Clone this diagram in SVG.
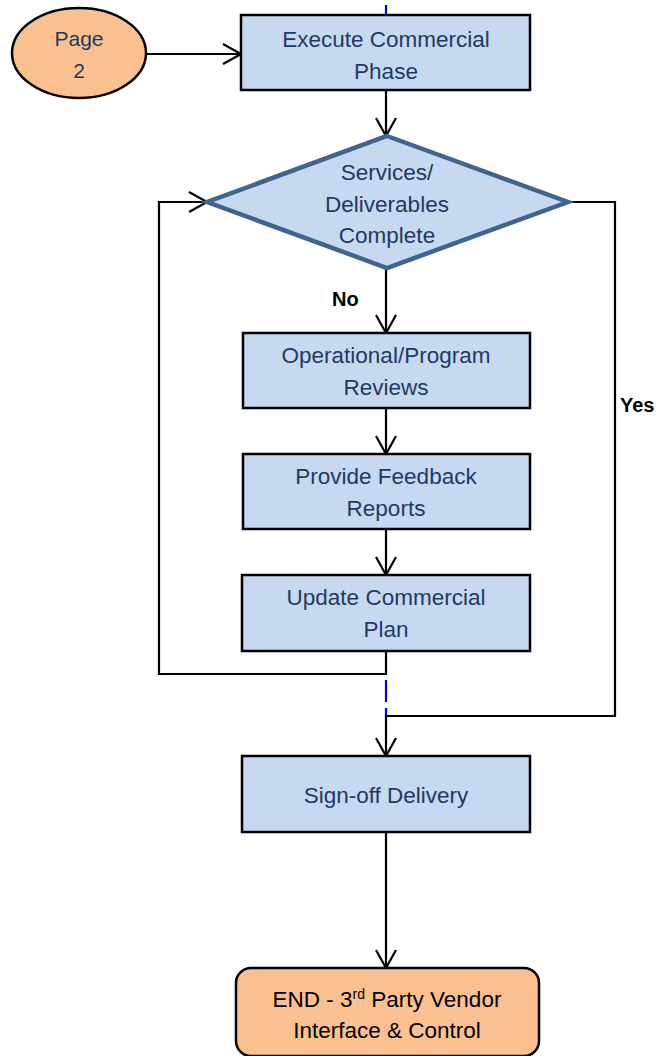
<svg xmlns="http://www.w3.org/2000/svg" width="659" height="1056" viewBox="0 0 659 1056">
<style>
.box{fill:#C6D9F1;stroke:#000;stroke-width:2.5}
.term{fill:#FAC090;stroke:#000;stroke-width:2.5}
.t{font-family:"Liberation Sans",Arial,sans-serif;font-size:22.5px;fill:#1F3A60;text-anchor:middle}
.tp{font-family:"Liberation Sans",Arial,sans-serif;font-size:21px;fill:#1F3A60;text-anchor:middle}
.lbl{font-family:"Liberation Sans",Arial,sans-serif;font-size:20px;font-weight:bold;fill:#000}
.c{fill:none;stroke:#000;stroke-width:2.2}
.blue{fill:none;stroke:#0000E0;stroke-width:2.2}
</style>
<defs>
<marker id="arr" viewBox="0 0 20 22" refX="19" refY="11" markerWidth="20" markerHeight="22" markerUnits="userSpaceOnUse" orient="auto">
<path d="M1,1 L19,11 L1,21" fill="none" stroke="#000" stroke-width="2.2"/>
</marker>
</defs>
<g id="connectors">
<line class="blue" x1="386" y1="5" x2="386" y2="15"/>
<line class="c" x1="147" y1="54" x2="241" y2="54" marker-end="url(#arr)"/>
<line class="c" x1="386" y1="90" x2="386" y2="136" marker-end="url(#arr)"/>
<line class="c" x1="386" y1="268" x2="386" y2="333" marker-end="url(#arr)"/>
<line class="c" x1="386" y1="408" x2="386" y2="454" marker-end="url(#arr)"/>
<line class="c" x1="386" y1="529" x2="386" y2="575" marker-end="url(#arr)"/>
<polyline class="c" points="386,651 386,674 159,674 159,202 207,202" marker-end="url(#arr)"/>
<line class="blue" x1="386" y1="680" x2="386" y2="716" stroke-dasharray="22 6"/>
<polyline class="c" points="568,202 615,202 615,716 386,716 386,756" marker-end="url(#arr)"/>
<line class="c" x1="386" y1="832" x2="386" y2="968" marker-end="url(#arr)"/>
<text class="lbl" x="332" y="306">No</text>
<text class="lbl" x="620" y="412">Yes</text>
</g>
<g id="page2">
<ellipse class="term" cx="79" cy="53" rx="67" ry="45"/>
<text class="tp" x="79" y="46">Page</text>
<text class="tp" x="79" y="78">2</text>
</g>
<g id="execute">
<rect class="box" x="241" y="15" width="289" height="75"/>
<text class="t" x="386" y="47">Execute Commercial</text>
<text class="t" x="386" y="79">Phase</text>
</g>
<g id="decision">
<polygon points="387,136 568,202 387,268 207,202" fill="#C6D9F1" stroke="#41648F" stroke-width="4.5" stroke-linejoin="miter"/>
<text class="t" x="387" y="180">Services/</text>
<text class="t" x="387" y="212">Deliverables</text>
<text class="t" x="387" y="243">Complete</text>
</g>
<g id="reviews">
<rect class="box" x="243" y="333" width="287" height="75"/>
<text class="t" x="386" y="363">Operational/Program</text>
<text class="t" x="386" y="395">Reviews</text>
</g>
<g id="feedback">
<rect class="box" x="243" y="454" width="287" height="75"/>
<text class="t" x="386" y="484">Provide Feedback</text>
<text class="t" x="386" y="516">Reports</text>
</g>
<g id="update">
<rect class="box" x="242" y="575" width="288" height="76"/>
<text class="t" x="386" y="605">Update Commercial</text>
<text class="t" x="386" y="637">Plan</text>
</g>
<g id="signoff">
<rect class="box" x="242" y="756" width="288" height="76"/>
<text class="t" x="386" y="803">Sign-off Delivery</text>
</g>
<g id="end">
<rect class="term" x="236" y="968" width="303" height="88" rx="15"/>
<text class="t" x="387" y="1007" style="fill:#000">END - 3<tspan font-size="14" dy="-8">rd</tspan><tspan dy="8"> Party Vendor</tspan></text>
<text class="t" x="387" y="1038" style="fill:#000">Interface &amp; Control</text>
</g>
</svg>
